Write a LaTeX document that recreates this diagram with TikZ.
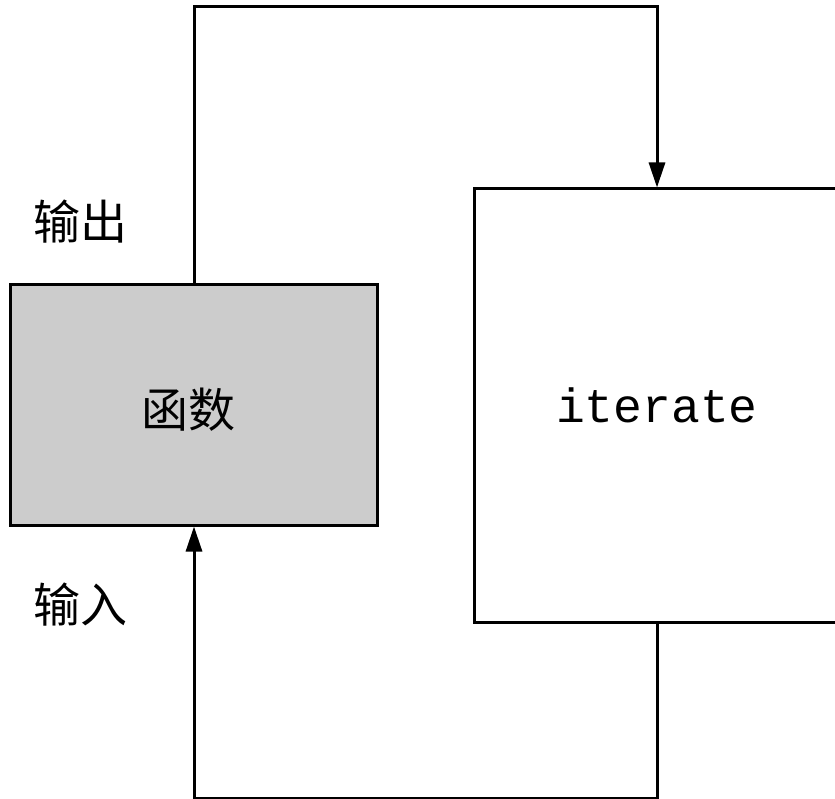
\documentclass[tikz,border=0pt]{standalone}
\usepackage{fontspec}
\newfontfamily\cjk{Noto Sans CJK SC}
\setmonofont{Liberation Mono}
\usetikzlibrary{positioning, arrows.meta}
\tikzset{
    funcbox/.style={draw, line width=3pt, fill=black!20, minimum width=367pt, minimum height=240pt, inner sep=0pt},
    iterbox/.style={draw, line width=3pt, fill=white, minimum width=366pt, minimum height=433pt, inner sep=0pt, font=\fontsize{48}{54}\selectfont\ttfamily},
    cjklbl/.style={inner sep=0pt, font=\fontsize{47}{52}\selectfont\cjk},
    flowarrow/.style={-{Triangle[length=25pt, width=16pt]}, line width=3pt},
}

\begin{document}
\begin{tikzpicture}[x=1pt, y=-1pt]
        \useasboundingbox (0,0) rectangle (835,799);
        \node[funcbox] (func) at (194,405) {};
        \node[cjklbl] (funclbl) at (188,410) {函数};
        \node[iterbox] (iter) at (657,405.5) {iterate};
        \node[cjklbl] (outlbl) at (80,222) {输出};
        \node[cjklbl] (inlbl) at (80,605) {输入};
        \draw[flowarrow] (func.north) -- ++(0,-277) -| (iter.north);
        \draw[flowarrow] (iter.south) -- ++(0,175) -| (func.south);
    \end{tikzpicture}
\end{document}
